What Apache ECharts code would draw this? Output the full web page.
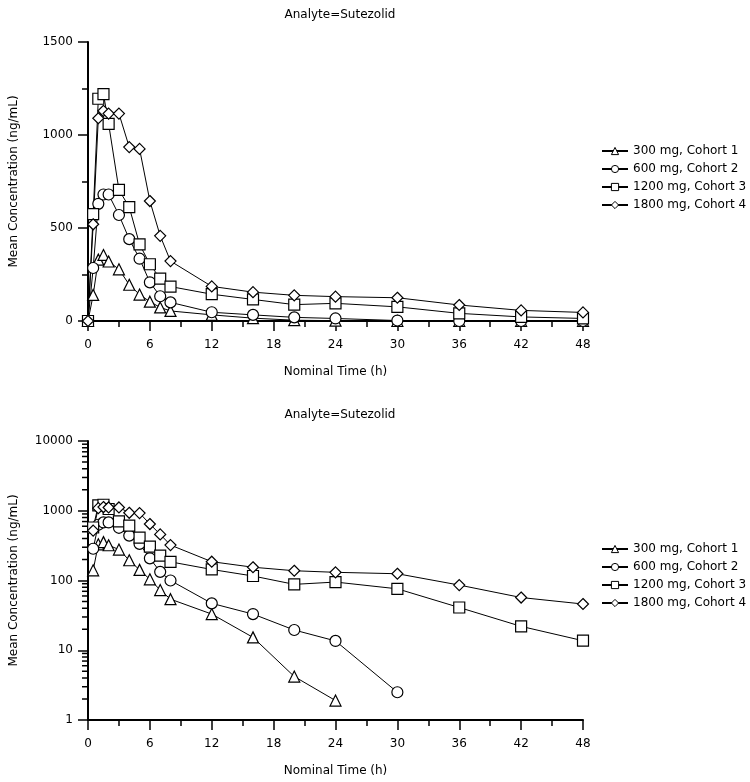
<!DOCTYPE html>
<html><head><meta charset="utf-8">
<script src="https://cdn.jsdelivr.net/npm/echarts@6/dist/echarts.min.js"></script>
<style>html,body{margin:0;padding:0;background:#fff}#c{width:750px;height:782px}</style>
</head><body><div id="c"></div>
<script>
const times = [0, 0.5, 1, 1.5, 2, 3, 4, 5, 6, 7, 8, 12, 16, 20, 24, 30, 36, 42, 48];
const seriesNames = ['300 mg, Cohort 1', '600 mg, Cohort 2', '1200 mg, Cohort 3', '1800 mg, Cohort 4'];
const cohort1 = [0, 140, 330, 355, 320, 278, 195, 142, 104, 73, 54, 33, 15.3, 4.2, 1.9, 0, 0, 0, 0];
const cohort2 = [0, 285, 630, 680, 680, 570, 440, 335, 208, 133, 100, 47, 33, 19.5, 13.6, 2.5, 0, 0, 0];
const cohort3 = [0, 575, 1195, 1220, 1060, 705, 612, 412, 305, 228, 185, 144, 116, 88, 95, 76, 41, 22, 13.7];
const cohort4 = [0, 520, 1090, 1130, 1115, 1115, 935, 925, 645, 458, 322, 186, 155, 138, 131, 125, 86, 57, 46];
const xTicks = [0, 6, 12, 18, 24, 30, 36, 42, 48];
const linTicks = [0, 500, 1000, 1500];
const logTicks = [1, 10, 100, 1000, 10000];
const titleText = 'Analyte=Sutezolid';
const xName = 'Nominal Time (h)';
const yName = 'Mean Concentration (ng/mL)';

const allSeries = [cohort1, cohort2, cohort3, cohort4];
const symbols = ['triangle', 'circle', 'rect', 'diamond'];
const FONT = 'DejaVu Sans';
const logMinor = [];
for (let d = 1; d < 10000; d *= 10) for (let k = 2; k <= 9; k++) logMinor.push([0, k * d]);

const plain = v => String(v);
const axisCommon = {
  axisLine: {show: true, lineStyle: {color: '#000', width: 2}},
  axisTick: {show: true, length: 10, lineStyle: {color: '#000', width: 1.5}},
  axisLabel: {color: '#000', fontFamily: FONT, fontSize: 12, formatter: plain},
  splitLine: {show: false},
  nameTextStyle: {color: '#000', fontFamily: FONT, fontSize: 12},
  nameLocation: 'middle'
};

function xAxis(gi) {
  return Object.assign({}, axisCommon, {
    type: 'value', gridIndex: gi, min: xTicks[0], max: xTicks[xTicks.length - 1], interval: xTicks[1] - xTicks[0],
    name: xName, nameGap: 45,
    axisLabel: Object.assign({}, axisCommon.axisLabel, {margin: 18}),
    minorTick: {show: true, splitNumber: 2, length: 6, lineStyle: {color: '#000', width: 1.5}}
  });
}

const lineSeries = [];
[0, 1].forEach(gi => {
  allSeries.forEach((vals, i) => {
    const data = times.map((t, j) => {
      const v = vals[j];
      if (gi === 1 && !(v > 0)) return [t, null];
      return [t, v];
    });
    lineSeries.push({
      type: 'line', name: seriesNames[i], xAxisIndex: gi, yAxisIndex: gi,
      data: data, symbol: symbols[i], symbolSize: 11, showSymbol: true,
      connectNulls: false, clip: false,
      lineStyle: {color: '#000', width: 1},
      itemStyle: {color: '#fff', borderColor: '#000', borderWidth: 1.2},
      emphasis: {disabled: true}
    });
  });
});

lineSeries.push({
  type: 'custom', xAxisIndex: 1, yAxisIndex: 1, data: logMinor, clip: false, silent: true,
  renderItem: function (params, api) {
    const p = api.coord([api.value(0), api.value(1)]);
    return {type: 'line', shape: {x1: p[0] - 6, y1: p[1], x2: p[0], y2: p[1]},
      style: {stroke: '#000', lineWidth: 1.5}};
  }
});

function legend(top) {
  return {
    orient: 'vertical', left: 596, top: top, data: seriesNames,
    itemWidth: 26, itemHeight: 9, itemGap: 6,
    itemStyle: {color: '#fff', borderColor: '#000', borderWidth: 1},
    textStyle: {color: '#000', fontFamily: FONT, fontSize: 12}
  };
}

const option = {
  animation: false,
  backgroundColor: '#fff',
  title: [
    {text: titleText, left: 335, textAlign: 'center', top: 4, textStyle: {color: '#000', fontFamily: FONT, fontSize: 12, fontWeight: 'normal'}},
    {text: titleText, left: 335, textAlign: 'center', top: 404, textStyle: {color: '#000', fontFamily: FONT, fontSize: 12, fontWeight: 'normal'}}
  ],
  grid: [
    {left: 87, top: 42, width: 496, height: 279},
    {left: 87, top: 441, width: 496, height: 279}
  ],
  legend: [legend(140), legend(538)],
  xAxis: [xAxis(0), xAxis(1)],
  yAxis: [
    Object.assign({}, axisCommon, {
      type: 'value', gridIndex: 0, min: linTicks[0], max: linTicks[linTicks.length - 1], interval: linTicks[1] - linTicks[0],
      name: yName, nameGap: 68,
      axisLabel: Object.assign({}, axisCommon.axisLabel, {margin: 15}),
      minorTick: {show: true, splitNumber: 2, length: 6, lineStyle: {color: '#000', width: 1.5}}
    }),
    Object.assign({}, axisCommon, {
      type: 'log', logBase: 10, gridIndex: 1, min: logTicks[0], max: logTicks[logTicks.length - 1], name: yName, nameGap: 68,
      axisLabel: Object.assign({}, axisCommon.axisLabel, {margin: 15})
    })
  ],
  series: lineSeries
};
const chart = echarts.init(document.getElementById('c'), null, {renderer: 'canvas'});
chart.setOption(option);
</script></body></html>
